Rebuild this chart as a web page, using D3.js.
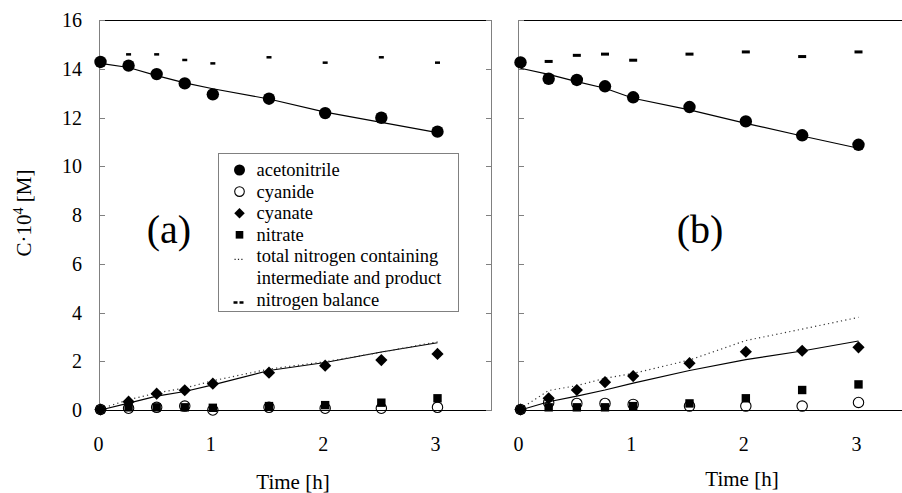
<!DOCTYPE html>
<html>
<head>
<meta charset="utf-8">
<script src="https://cdn.jsdelivr.net/npm/d3@7"></script>
<style>
  html, body { margin: 0; padding: 0; background: #fff; }
  svg { display: block; }
</style>
</head>
<body>
<svg id="chart" width="902" height="493"></svg>
<script>
const TIMES = [0, 0.25, 0.5, 0.75, 1, 1.5, 2, 2.5, 3];
const X_TICKS = [0, 1, 2, 3];
const Y_TICKS = [0, 2, 4, 6, 8, 10, 12, 14, 16];

// panel (a)
const ACN_A = [14.28, 14.13, 13.78, 13.40, 12.95, 12.77, 12.18, 11.99, 11.42];
const ACN_FIT_A = [14.22, 14.05, 13.72, 13.42, 13.18, 12.76, 12.22, 11.80, 11.38];
const CYANIDE_A = [0.02, 0.07, 0.11, 0.16, 0.0, 0.11, 0.07, 0.07, 0.11];
const CYANATE_A = [0.02, 0.34, 0.67, 0.81, 1.08, 1.53, 1.82, 2.05, 2.30];
const CYANATE_FIT_A = [0, 0.28, 0.57, 0.76, 1.03, 1.62, 1.95, 2.38, 2.76];
const NITRATE_A = [0.02, 0.11, 0.11, 0.11, 0.09, 0.16, 0.20, 0.30, 0.48];
const TOTAL_N_A = [0.05, 0.42, 0.70, 0.90, 1.20, 1.68, 1.98, 2.37, 2.80];
const BALANCE_A = [14.30, 14.59, 14.59, 14.36, 14.22, 14.47, 14.25, 14.47, 14.25];

// panel (b)
const ACN_B = [14.26, 13.59, 13.54, 13.28, 12.83, 12.43, 11.84, 11.27, 10.88];
const ACN_FIT_B = [14.02, 13.77, 13.47, 13.20, 12.79, 12.31, 11.76, 11.24, 10.74];
const CYANIDE_B = [0.02, 0.30, 0.27, 0.27, 0.23, 0.16, 0.16, 0.16, 0.31];
const CYANATE_B = [0.02, 0.48, 0.82, 1.14, 1.39, 1.92, 2.39, 2.43, 2.57];
const CYANATE_FIT_B = [0, 0.34, 0.57, 0.82, 1.10, 1.62, 2.07, 2.42, 2.83];
const NITRATE_B = [0.02, 0.11, 0.11, 0.11, 0.16, 0.27, 0.48, 0.82, 1.05];
const TOTAL_N_B = [0.05, 0.80, 1.00, 1.30, 1.50, 2.05, 2.85, 3.32, 3.80];
const BALANCE_B = [14.30, 14.30, 14.55, 14.60, 14.35, 14.60, 14.69, 14.50, 14.69];

const LEGEND_LABELS = [
  "acetonitrile", "cyanide", "cyanate", "nitrate",
  "total nitrogen containing", "intermediate and product", "nitrogen balance"
];

const FONT = "Liberation Serif";
const GREY = "#808080";
const TOP = 20;
const BOTTOM = 410;


function pairs(values) {
  return TIMES.map((t, i) => ({"t": t, "v": values[i]}));
}


class Panel {

  constructor(svg, opts) {
    const self = this;
    self._svg = svg;
    self._opts = opts;
    self._x = d3.scaleLinear().domain([0, 3]).range(opts.xRange);
    self._y = d3.scaleLinear().domain([0, 16]).range([BOTTOM, TOP]);
    self._g = svg.append("g");
  }

  draw(series) {
    const self = this;
    self._drawFrame();
    self._drawLines(series);
    self._drawMarkers(series);
    self._drawTexts();
  }

  _drawFrame() {
    const self = this;
    const o = self._opts;
    const g = self._g;

    g.append("line").attr("x1", o.left).attr("x2", o.right)
      .attr("y1", TOP + 0.5).attr("y2", TOP + 0.5).attr("stroke", "#000");
    g.append("line").attr("x1", o.left).attr("x2", o.right)
      .attr("y1", BOTTOM + 0.5).attr("y2", BOTTOM + 0.5).attr("stroke", "#000");
    g.append("line").attr("x1", o.left + 0.5).attr("x2", o.left + 0.5)
      .attr("y1", TOP).attr("y2", BOTTOM + 1).attr("stroke", GREY);

    g.selectAll(".ytick-l").data(Y_TICKS).enter().append("line")
      .attr("x1", o.left).attr("x2", o.left + 6)
      .attr("y1", (d) => Math.round(self._y(d)) + 0.5)
      .attr("y2", (d) => Math.round(self._y(d)) + 0.5)
      .attr("stroke", GREY);

    if (o.right < 902) {
      g.append("line").attr("x1", o.right + 0.5).attr("x2", o.right + 0.5)
        .attr("y1", TOP).attr("y2", BOTTOM + 1).attr("stroke", GREY);
      g.selectAll(".ytick-r").data(Y_TICKS).enter().append("line")
        .attr("x1", o.right - 5).attr("x2", o.right)
        .attr("y1", (d) => Math.round(self._y(d)) + 0.5)
        .attr("y2", (d) => Math.round(self._y(d)) + 0.5)
        .attr("stroke", GREY);
    }

    if (o.yLabels) {
      g.selectAll(".ylab").data(Y_TICKS).enter().append("text")
        .attr("x", o.left - 17)
        .attr("y", (d) => self._y(d) + 7)
        .attr("text-anchor", "end")
        .attr("font-family", FONT)
        .attr("font-size", 20)
        .text((d) => d);
    }

    g.selectAll(".xlab").data(X_TICKS).enter().append("text")
      .attr("x", (d) => self._x(d) - 2)
      .attr("y", 451)
      .attr("text-anchor", "middle")
      .attr("font-family", FONT)
      .attr("font-size", 20)
      .text((d) => d);
  }

  _drawLines(series) {
    const self = this;
    const line = d3.line().x((d) => self._x(d.t)).y((d) => self._y(d.v));

    self._g.append("path").attr("d", line(pairs(series.acnFit)))
      .attr("fill", "none").attr("stroke", "#000").attr("stroke-width", 1.2);
    self._g.append("path").attr("d", line(pairs(series.cyanateFit)))
      .attr("fill", "none").attr("stroke", "#000").attr("stroke-width", 1.2);
    self._g.append("path").attr("d", line(pairs(series.totalN)))
      .attr("fill", "none").attr("stroke", "#333").attr("stroke-width", 1.2)
      .attr("stroke-dasharray", "1.2,3.2");
  }

  _drawMarkers(series) {
    const self = this;
    const g = self._g;
    const o = self._opts;
    const x = (d) => self._x(d.t);
    const y = (d) => self._y(d.v);

    g.selectAll(".bal").data(pairs(series.balance)).enter().append("rect")
      .attr("x", (d) => x(d) - o.dashW / 2).attr("y", (d) => y(d) - o.dashH / 2)
      .attr("width", o.dashW).attr("height", o.dashH).attr("fill", "#000");

    g.selectAll(".acn").data(pairs(series.acn)).enter().append("circle")
      .attr("cx", x).attr("cy", y).attr("r", 6.2).attr("fill", "#000");

    g.selectAll(".cyd").data(pairs(series.cyanide)).enter().append("circle")
      .attr("cx", x).attr("cy", y).attr("r", 5.2)
      .attr("fill", "none").attr("stroke", "#000").attr("stroke-width", 1.1);

    g.selectAll(".nit").data(pairs(series.nitrate)).enter().append("rect")
      .attr("x", (d) => x(d) - 4.2).attr("y", (d) => y(d) - 4.2)
      .attr("width", 8.4).attr("height", 8.4).attr("fill", "#000");

    const diamond = d3.symbol().type(d3.symbolDiamond2).size(95);
    g.selectAll(".cya").data(pairs(series.cyanate)).enter().append("path")
      .attr("d", diamond)
      .attr("transform", (d) => "translate(" + x(d) + "," + y(d) + ")")
      .attr("fill", "#000");
  }

  _drawTexts() {
    const self = this;
    const o = self._opts;

    self._g.append("text")
      .attr("x", o.titleX).attr("y", o.titleY)
      .attr("text-anchor", "middle")
      .attr("font-family", FONT).attr("font-size", 21)
      .text("Time [h]");

    self._g.append("text")
      .attr("x", o.tagX).attr("y", 243)
      .attr("text-anchor", "middle")
      .attr("font-family", FONT).attr("font-size", 40)
      .text(o.tag);
  }

}


function drawLegend(svg) {
  const g = svg.append("g");
  const left = 218, top = 153, right = 458, bottom = 311;
  const symX = 239.5, textX = 256.5, row0 = 170, step = 21.6;

  g.append("rect")
    .attr("x", left + 0.5).attr("y", top + 0.5)
    .attr("width", right - left).attr("height", bottom - top)
    .attr("fill", "#fff").attr("stroke", GREY);

  g.selectAll("text").data(LEGEND_LABELS).enter().append("text")
    .attr("x", textX)
    .attr("y", (d, i) => row0 + i * step + 6)
    .attr("font-family", FONT)
    .attr("font-size", 18.5)
    .text((d) => d);

  g.append("circle").attr("cx", symX).attr("cy", row0).attr("r", 5.5).attr("fill", "#000");
  g.append("circle").attr("cx", symX).attr("cy", row0 + step).attr("r", 4.8)
    .attr("fill", "none").attr("stroke", "#000").attr("stroke-width", 1.1);
  g.append("path").attr("d", d3.symbol().type(d3.symbolDiamond2).size(70))
    .attr("transform", "translate(" + symX + "," + (row0 + 2 * step) + ")");
  g.append("rect").attr("x", symX - 3.8).attr("y", row0 + 3 * step - 3.8)
    .attr("width", 7.6).attr("height", 7.6).attr("fill", "#000");
  g.append("line").attr("x1", symX - 5).attr("x2", symX + 5)
    .attr("y1", row0 + 4 * step + 3).attr("y2", row0 + 4 * step + 3)
    .attr("stroke", "#222").attr("stroke-width", 1.2).attr("stroke-dasharray", "1.2,2.2");
  g.append("line").attr("x1", symX - 6).attr("x2", symX + 4)
    .attr("y1", row0 + 6 * step + 3).attr("y2", row0 + 6 * step + 3)
    .attr("stroke", "#000").attr("stroke-width", 2.5).attr("stroke-dasharray", "4,2");
}


function drawChart() {
  const svg = d3.select("#chart");

  svg.append("text")
    .attr("transform", "translate(31,213) rotate(-90)")
    .attr("text-anchor", "middle")
    .attr("font-family", FONT)
    .attr("font-size", 21)
    .html("C·10<tspan dy=\"-8\" font-size=\"14\">4</tspan><tspan dy=\"8\"> [M]</tspan>");

  const panelA = new Panel(svg, {
    "left": 99, "right": 491, "xRange": [100.5, 437.5], "yLabels": true,
    "dashW": 5, "dashH": 2.5, "titleX": 293, "titleY": 489, "tag": "(a)", "tagX": 169
  });
  panelA.draw({
    "acn": ACN_A, "acnFit": ACN_FIT_A, "cyanide": CYANIDE_A, "cyanate": CYANATE_A,
    "cyanateFit": CYANATE_FIT_A, "nitrate": NITRATE_A, "totalN": TOTAL_N_A, "balance": BALANCE_A
  });

  drawLegend(svg);

  const panelB = new Panel(svg, {
    "left": 518, "right": 902, "xRange": [520.5, 858.5], "yLabels": false,
    "dashW": 8, "dashH": 3, "titleX": 742, "titleY": 486, "tag": "(b)", "tagX": 700
  });
  panelB.draw({
    "acn": ACN_B, "acnFit": ACN_FIT_B, "cyanide": CYANIDE_B, "cyanate": CYANATE_B,
    "cyanateFit": CYANATE_FIT_B, "nitrate": NITRATE_B, "totalN": TOTAL_N_B, "balance": BALANCE_B
  });
}


drawChart();
</script>
</body>
</html>
